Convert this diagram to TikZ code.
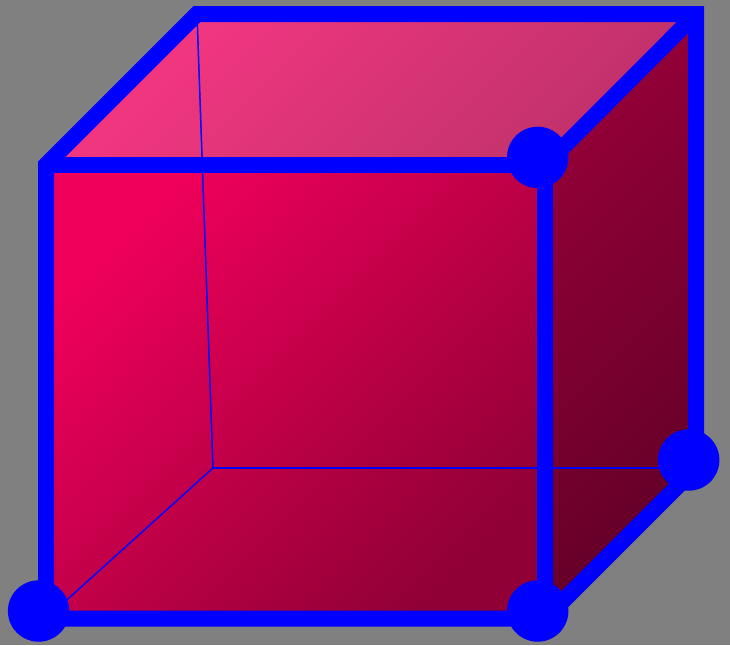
\documentclass[tikz,border=0pt]{standalone}
\usepackage{tikz}

\definecolor{bggray}{RGB}{128,128,128}
\definecolor{edgeblue}{RGB}{0,0,255}
\definecolor{topA}{RGB}{246,54,130}
\definecolor{topB}{RGB}{190,50,106}
\definecolor{sideA}{RGB}{150,0,57}
\definecolor{sideB}{RGB}{98,0,40}
\definecolor{frontA}{RGB}{240,0,90}
\definecolor{frontB}{RGB}{144,0,54}

\begin{document}
\begin{tikzpicture}[x=1pt,y=-1pt,line join=miter]
                \tikzstyle{edge} = [draw=edgeblue, line width=16pt]
                \tikzstyle{hidden} = [draw=edgeblue, line width=1.5pt]
                \tikzstyle{dot} = [circle, fill=edgeblue, inner sep=0pt, minimum size=61.4pt]
                \tikzstyle{face} = [left color=#1A, right color=#1B, shading angle=45]

                % Background
                \fill[bggray] (0,0) rectangle (730,645);
                \useasboundingbox (0,0) rectangle (730,645);

                % Cube corners
                \coordinate (frontTL) at (46,165);
                \coordinate (frontTR) at (545.3,165);
                \coordinate (frontBL) at (46,618.7);
                \coordinate (frontBR) at (545.3,618.7);
                \coordinate (backTL) at (197,14);
                \coordinate (backTR) at (696,14);
                \coordinate (backBL) at (213,468);
                \coordinate (backBR) at (696,468);

                % Faces
                \path[face=top] (frontTL) -- (backTL) -- (backTR) -- (frontTR) -- cycle;
                \path[face=side] (frontTR) -- (backTR) -- (backBR) -- (frontBR) -- cycle;
                \path[face=front] (frontTL) -- (frontTR) -- (frontBR) -- (frontBL) -- cycle;

                % Hidden edges
                \draw[hidden] (backTL) -- (backBL);
                \draw[hidden] (backBL) -- (backBR);
                \draw[hidden] (backBL) -- (frontBL);

                % Outer edges
                \draw[edge] (frontTL) -- (backTL) -- (backTR) -- (backBR) -- (frontBR) -- (frontBL) -- cycle;
                \draw[edge] (frontTL) -- (frontTR);
                \draw[edge] (frontTR) -- (frontBR);
                \draw[edge] (frontTR) -- (backTR);

                % Corner dots
                \node[dot] (dotA) at (38.6,611) {};
                \node[dot] (dotB) at (537.7,611) {};
                \node[dot] (dotC) at (537.7,157.4) {};
                \node[dot] (dotD) at (688.7,460) {};
\end{tikzpicture}
\end{document}
